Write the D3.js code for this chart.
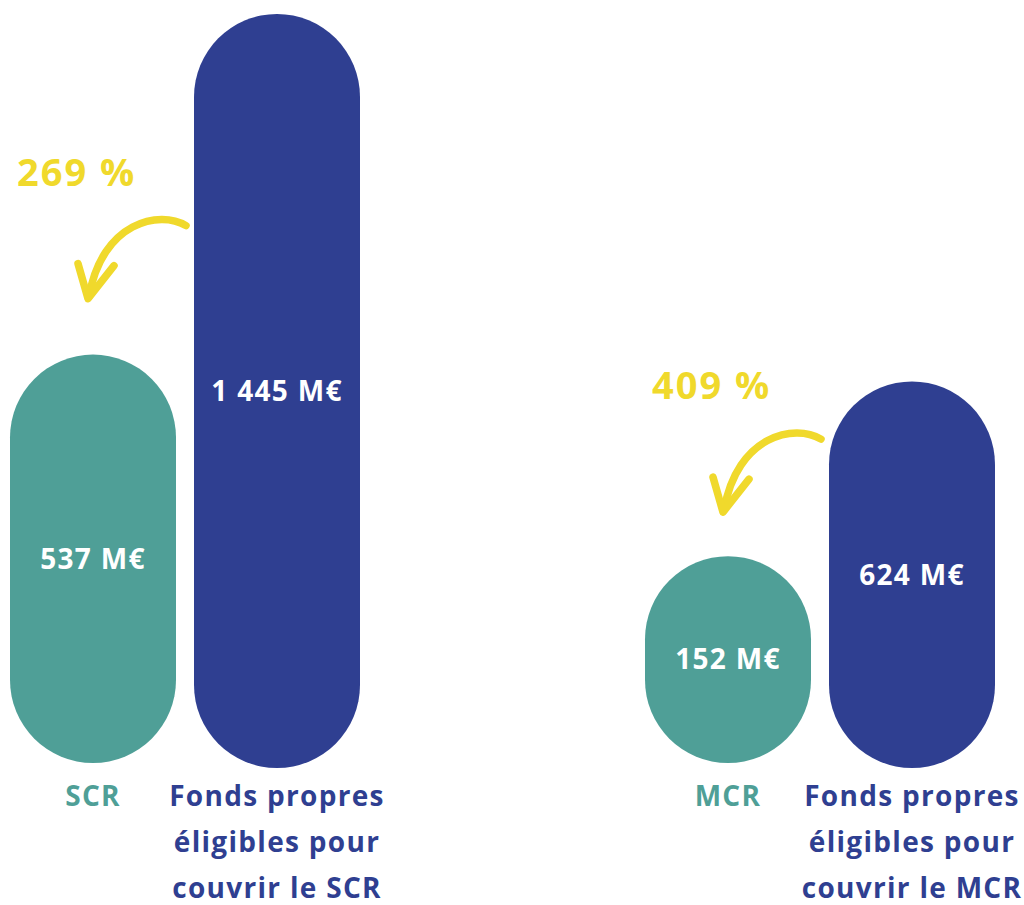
<!DOCTYPE html>
<html>
<head>
<meta charset="utf-8">
<script src="https://cdn.jsdelivr.net/npm/d3@7"></script>
<style>
    body { margin: 0; background: #fff; }
    svg { display: block; font-family: "Open Sans", "Lato", sans-serif; }
    .value { fill: #fff; font-weight: 700; font-size: 28px; letter-spacing: 1.3px; text-anchor: middle; }
    .ratio { fill: #f0d92c; font-weight: 700; font-size: 38px; letter-spacing: 2px; }
    .cat { font-weight: 700; font-size: 28px; letter-spacing: 1.3px; text-anchor: middle; }
</style>
</head>
<body>
<svg width="1024" height="905"></svg>
<script>
const width = 1024;
const height = 905;

// data
const panels = ["SCR", "MCR"];
const requirement = [537, 152];
const ownFunds = [1445, 624];
const ratioLabels = ["269 %", "409 %"];
const requirementLabels = ["SCR", "MCR"];
const ownFundsLabels = [
    ["Fonds propres", "éligibles pour", "couvrir le SCR"],
    ["Fonds propres", "éligibles pour", "couvrir le MCR"]
];

const teal = "#4f9f97";
const blue = "#2f3f91";
const yellow = "#f0d92c";

const pillWidth = 166;
const blueOffset = 184;      // gap between the two pills of a panel
const baseHeight = [204, 149]; // pill height at zero, per panel
const bottomTeal = 763;
const bottomBlue = 768;
const arrowLift = [55, 43];

const svg = d3.select("svg");

// panel x position
const xScale = d3.scalePoint()
    .domain(panels)
    .range([10, 645]);

// value -> pill height (added on top of the panel base)
const hScale = d3.scaleLinear()
    .domain([0, 1445])
    .range([0, 550]);

const fmt = v => d3.format(",")(v).replace(/,/g, " ") + " M€";

panels.forEach((p, i) => {
    const x0 = xScale(p);
    const x1 = x0 + blueOffset;
    const hT = baseHeight[i] + hScale(requirement[i]);
    const hB = baseHeight[i] + hScale(ownFunds[i]);
    const g = svg.append("g");

    // requirement pill
    g.append("rect")
        .attr("x", x0)
        .attr("y", bottomTeal - hT)
        .attr("width", pillWidth)
        .attr("height", hT)
        .attr("rx", pillWidth / 2)
        .attr("fill", teal);

    // own funds pill
    g.append("rect")
        .attr("x", x1)
        .attr("y", bottomBlue - hB)
        .attr("width", pillWidth)
        .attr("height", hB)
        .attr("rx", pillWidth / 2)
        .attr("fill", blue);

    // values
    g.append("text")
        .attr("class", "value")
        .attr("x", x0 + pillWidth / 2)
        .attr("y", bottomTeal - hT / 2)
        .attr("dy", "0.35em")
        .text(fmt(requirement[i]));

    g.append("text")
        .attr("class", "value")
        .attr("x", x1 + pillWidth / 2)
        .attr("y", bottomBlue - hB / 2)
        .attr("dy", "0.35em")
        .text(fmt(ownFunds[i]));

    // arrow from own funds to requirement
    const tipX = x0 + pillWidth / 2 - 5;
    const tipY = bottomTeal - hT - arrowLift[i];
    const arrow = g.append("g")
        .attr("transform", `translate(${tipX},${tipY})`)
        .attr("fill", "none")
        .attr("stroke", yellow)
        .attr("stroke-linecap", "round")
        .attr("stroke-linejoin", "round");

    arrow.append("path")
        .attr("d", "M98,-74 C72,-90 14,-78 1,-3")
        .attr("stroke-width", 7.5);

    arrow.append("path")
        .attr("d", "M-10,-36 L0,-1 L26,-34")
        .attr("stroke-width", 7.5);

    // ratio
    g.append("text")
        .attr("class", "ratio")
        .attr("x", tipX - 71)
        .attr("y", tipY - 114)
        .text(ratioLabels[i]);

    // category labels
    g.append("text")
        .attr("class", "cat")
        .attr("x", x0 + pillWidth / 2)
        .attr("y", 806)
        .attr("fill", teal)
        .text(requirementLabels[i]);

    g.append("text")
        .attr("class", "cat")
        .attr("x", x1 + pillWidth / 2)
        .attr("fill", blue)
        .selectAll("tspan")
        .data(ownFundsLabels[i])
        .join("tspan")
        .attr("x", x1 + pillWidth / 2)
        .attr("y", (d, j) => 806 + j * 46)
        .text(d => d);
});
</script>
</body>
</html>
